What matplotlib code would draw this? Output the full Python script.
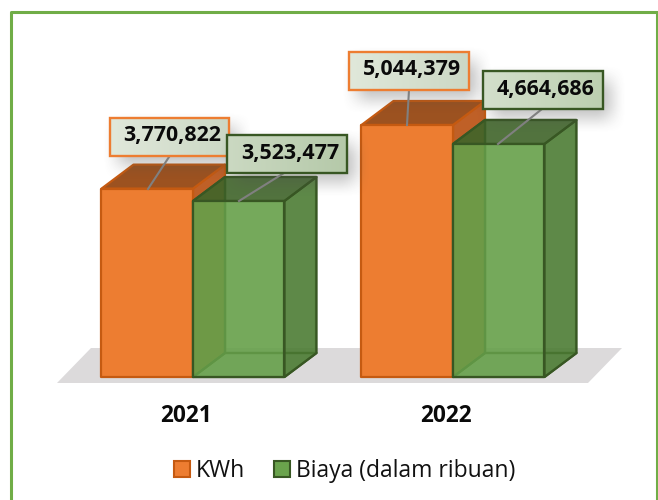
import numpy as np
import matplotlib
matplotlib.use("Agg")
import matplotlib.pyplot as plt
from matplotlib.patches import Polygon, Patch, Rectangle
from matplotlib.lines import Line2D

categories = ["2021", "2022"]
kwh = [3770822, 5044379]
biaya = [3523477, 4664686]
series_names = ["KWh", "Biaya (dalam ribuan)"]

plt.rcParams["font.family"] = ["Open Sans", "DejaVu Sans"]
W, H = 658, 500
fig = plt.figure(figsize=(W / 100, H / 100), dpi=100, facecolor="white")

# axes box in pixels (top-left origin)
L, R, T, B = 57, 622, 20, 383
ax = fig.add_axes([L / W, 1 - B / H, (R - L) / W, (B - T) / H])
PX_X = 1 / 260           # category units per pixel
PX_Y = 20016             # value units per pixel
ORIGIN_X = 193
BASE_Y = 377
xlim = ((L - ORIGIN_X) * PX_X, (R - ORIGIN_X) * PX_X)
ylim = ((BASE_Y - B) * PX_Y, (BASE_Y - T) * PX_Y)

BAR_W = 91.5 * PX_X
DX, DY = 32 * PX_X, 24 * PX_Y


def box3d(x0, val, face, side, top, edge, alpha, z, back=False):
    x1 = x0 + BAR_W
    kw = dict(closed=True, edgecolor=edge, linewidth=1.6, zorder=z, clip_on=False, joinstyle="round")
    def poly(pts, c, a=alpha):
        r = matplotlib.colors.to_rgb(c)
        ax.add_patch(Polygon(pts, facecolor=r + (a,), **kw))
    if back:
        poly([(x0 + DX, DY), (x1 + DX, DY), (x1 + DX, val + DY), (x0 + DX, val + DY)], face, 0.35)
        poly([(x0, 0), (x0 + DX, DY), (x0 + DX, val + DY), (x0, val)], face, 0.35)
        poly([(x0, 0), (x1, 0), (x1 + DX, DY), (x0 + DX, DY)], face, 0.35)
    poly([(x1, 0), (x1 + DX, DY), (x1 + DX, val + DY), (x1, val)], side)
    poly([(x0, val), (x1, val), (x1 + DX, val + DY), (x0 + DX, val + DY)], top)
    poly([(x0, 0), (x1, 0), (x1, val), (x0, val)], face)


def px(x, y):
    return (x - ORIGIN_X) * PX_X, (BASE_Y - y) * PX_Y


# floor
ax.add_patch(Polygon([px(57, 383), px(91, 348), px(622, 348), px(588, 383)],
                     closed=True, facecolor="#dcdadb", edgecolor="none", zorder=1, clip_on=False))

for i in range(len(categories)):
    box3d(i - BAR_W, kwh[i], "#ed7d31", "#bf6027", "#9c5220", "#c55a11", 1.0, 2)
for i in range(len(categories)):
    box3d(i, biaya[i], "#66a04a", "#4b7a33", "#3d6128", "#385723", 0.85, 3, back=True)


def shadow(x0, y0, x1, y1, blur, strength, z):
    xs = np.arange(x0 - blur, x1 + blur) + 0.5
    ys = np.arange(y0 - blur, y1 + blur) + 0.5
    def ramp(t):
        t = np.clip(t, 0, 1)
        return t * t * (3 - 2 * t)
    fx = ramp((xs - (x0 - blur)) / (2 * blur)) * ramp(((x1 + blur) - xs) / (2 * blur))
    fy = ramp((ys - (y0 - blur)) / (2 * blur)) * ramp(((y1 + blur) - ys) / (2 * blur))
    a = np.outer(fy, fx) * strength
    img = np.zeros(a.shape + (4,))
    img[..., :3] = 0.3
    img[..., 3] = a
    ex0, ey0 = px(x0 - blur, y1 + blur)
    ex1, ey1 = px(x1 + blur, y0 - blur)
    im = ax.imshow(img, extent=(ex0, ex1, ey0, ey1), origin="upper", aspect="auto",
                   zorder=z, interpolation="bilinear")
    im.set_clip_on(False)


def label(val, rect, anchor_top, anchor_bar, edge, c_left, c_right, z):
    x0, y0, x1, y1 = rect
    shadow(x0 + 8, y0 + 9, x1 + 8, y1 + 9, 16, 0.36, z)
    ax.add_line(Line2D(*zip(px(*anchor_top), px(*anchor_bar)), color="#808080", lw=1.5, zorder=z + 0.1, clip_on=False))
    grad = np.linspace(0, 1, 64)[None, :, None]
    img = np.array(matplotlib.colors.to_rgb(c_left)) * (1 - grad) + np.array(matplotlib.colors.to_rgb(c_right)) * grad
    ex0, ey0 = px(x0, y1)
    ex1, ey1 = px(x1, y0)
    ax.imshow(img, extent=(ex0, ex1, ey0, ey1), aspect="auto", zorder=z + 0.2)
    ax.add_patch(Rectangle((ex0, ey0), ex1 - ex0, ey1 - ey0, facecolor="none", edgecolor=edge,
                           linewidth=1.7, zorder=z + 0.3, clip_on=False))
    cx, cy = px((x0 + x1) / 2 + 3, (y0 + y1) / 2 - 1)
    ax.text(cx, cy, f"{val:,}", ha="center", va="center", fontsize=15.4, fontweight="bold",
            color="#0a0a0a", zorder=z + 0.4)


label(kwh[0], (110, 118, 229, 156), (169, 157), (148, 189), "#ed7d31", "#e0e8da", "#ccd8c5", 4)
label(biaya[0], (227, 135, 347, 173), (284, 173), (239, 201), "#385723", "#cbd9c2", "#b5c9a9", 5)
label(kwh[1], (349, 52, 469, 90), (409, 90), (407, 125), "#ed7d31", "#e0e8da", "#ccd8c5", 4)
label(biaya[1], (483, 71, 603, 109), (542, 109), (498, 144), "#385723", "#d3dfcb", "#bccfb0", 5)

ax.set_xlim(*xlim)
ax.set_ylim(*ylim)
ax.set_yticks([])
ax.set_xticks(np.arange(len(categories)) - 7 * PX_X, categories, fontsize=16.3, fontweight="bold", color="#0a0a0a")
ax.tick_params(axis="x", length=0, pad=15)
for s in ax.spines.values():
    s.set_visible(False)
ax.patch.set_alpha(0)

handles = [Patch(facecolor="#ed7d31", edgecolor="#c55a11", linewidth=1.5),
           Patch(facecolor="#6aa34c", edgecolor="#385723", linewidth=1.5)]
fig.legend(handles, series_names, loc="center", bbox_to_anchor=(344.5 / W, 1 - 471 / H), ncol=2, frameon=False,
           fontsize=16.5, handlelength=0.68, handleheight=0.68, handletextpad=0.25, columnspacing=1.3,
           labelcolor="#111111")

# outer green frame
fig.add_artist(Line2D([10.5 / W, 10.5 / W, 657 / W, 657 / W], [0, 1 - 11.5 / H, 1 - 11.5 / H, 0],
                      color="#70ad47", lw=2.2, transform=fig.transFigure))

fig.savefig("out.png", dpi=100)
